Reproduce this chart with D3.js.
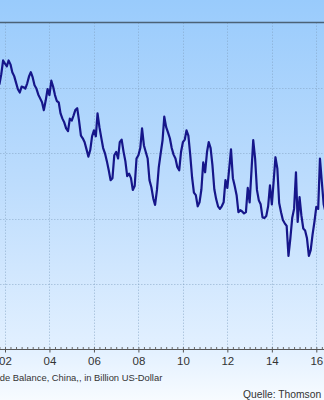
<!DOCTYPE html>
<html>
<head>
<meta charset="utf-8">
<script src="https://cdn.jsdelivr.net/npm/d3@7"></script>
<style>
  html, body { margin: 0; padding: 0; overflow: hidden; background: #fff; }
  svg { display: block; }
</style>
</head>
<body>
<div id="chart"></div>
<script>
// monthly series, first value is Oct 2001
const firstMonth = new Date(2001, 9, 1)
const tradeBalance = [
  40.5, 42.1, 44.2,
  43.7, 43.3, 44.2, 43.6, 42.4, 41.8, 40.8, 39.8, 39.3, 40.2, 40.1, 39.9,
  40.7, 41.8, 42.4, 41.6, 40.4, 39.9, 39.0, 38.4, 37.8, 36.6, 38.1, 39.8,
  38.9, 41.1, 40.2, 38.9, 38.0, 37.8, 36.1, 35.3, 34.7, 33.8, 33.4, 35.3,
  35.0, 35.8, 36.6, 36.9, 35.0, 32.7, 32.3, 31.7, 30.6, 29.5, 30.5, 32.6,
  33.5, 32.6, 36.1, 34.0, 32.4, 30.8, 30.0, 28.8, 27.4, 25.9, 26.2, 29.7,
  30.2, 29.2, 31.7, 32.1, 30.3, 28.8, 26.5, 26.9, 26.2, 24.4, 25.0, 29.2,
  29.7, 30.8, 33.8, 31.2, 30.2, 29.2, 25.9, 24.8, 23.1, 22.1, 24.4, 27.9,
  30.0, 32.0, 35.6, 34.0, 33.2, 32.3, 30.8, 29.8, 29.2, 27.9, 27.4, 30.2,
  31.7, 32.1, 33.5, 32.7, 29.8, 26.3, 24.0, 23.6, 21.9, 22.5, 24.5, 28.6,
  27.1, 30.2, 31.7, 30.8, 28.2, 24.5, 23.0, 21.9, 21.5, 21.9, 22.5, 25.9,
  24.7, 27.7, 30.6, 26.2, 25.0, 23.6, 21.0, 21.3, 21.1, 20.8, 21.0, 24.7,
  22.5, 27.4, 32.0, 29.2, 24.4, 22.8, 22.2, 20.2, 20.1, 20.4, 21.9, 25.1,
  22.2, 25.9, 29.4, 27.7, 22.4, 21.0, 19.8, 19.3, 18.9, 14.3, 17.0, 20.1,
  21.5, 27.1, 19.5, 23.3, 20.5, 18.5, 18.2, 17.0, 14.3, 15.2, 17.6, 19.5,
  21.8, 21.5, 29.2, 25.6, 22.2, 21.0
]
const yearTicks = [2002, 2004, 2006, 2008, 2010, 2012, 2014, 2016]
const gridValues = [10, 20, 30, 40]
const yMax = 50
const captionText = "Trade Balance, China,, in Billion US-Dollar"
const sourceText = "Quelle: Thomson Reuters"

const width = 324
const height = 400
const font = "'Liberation Sans', Arial, sans-serif"

const svg = d3.select("#chart").append("svg")
  .attr("width", width)
  .attr("height", height)

const grad = svg.append("defs").append("linearGradient")
  .attr("id", "bg")
  .attr("x1", 0).attr("y1", 0).attr("x2", 0).attr("y2", 1)
grad.selectAll("stop")
  .data([[0, "#99cbfc"], [0.45, "#bcdcfd"], [0.87, "#e2f0ff"], [1, "#f7fbff"]])
  .enter().append("stop")
  .attr("offset", d => d[0])
  .attr("stop-color", d => d[1])

svg.append("rect")
  .attr("width", width)
  .attr("height", height)
  .attr("fill", "url(#bg)")

const data = tradeBalance.map((v, i) => ({date: d3.timeMonth.offset(firstMonth, i), value: v}))

const x = d3.scaleTime()
  .domain([new Date(2002, 0, 1), new Date(2016, 0, 1)])
  .range([5, 316.3])
const y = d3.scaleLinear()
  .domain([0, yMax])
  .range([349.5, 22.5])

// grid
svg.append("g").selectAll("line")
  .data(gridValues)
  .enter().append("line")
  .attr("x1", 0).attr("x2", width)
  .attr("y1", d => Math.round(y(d)) + 0.5)
  .attr("y2", d => Math.round(y(d)) + 0.5)
  .attr("stroke", "#7f9fc0")
  .attr("stroke-opacity", 0.5)
  .attr("stroke-dasharray", "1.5,1.5")

svg.append("g").selectAll("line")
  .data(yearTicks)
  .enter().append("line")
  .attr("x1", d => Math.round(x(new Date(d, 0, 1))) + 0.5)
  .attr("x2", d => Math.round(x(new Date(d, 0, 1))) + 0.5)
  .attr("y1", y(yMax))
  .attr("y2", y(0))
  .attr("stroke", "#7f9fc0")
  .attr("stroke-opacity", 0.5)
  .attr("stroke-dasharray", "1.5,1.5")

// top frame line
svg.append("line")
  .attr("x1", 0).attr("x2", width)
  .attr("y1", y(yMax)).attr("y2", y(yMax))
  .attr("stroke", "#4b6276")
  .attr("stroke-width", 1.6)

// series
svg.append("path")
  .datum(data)
  .attr("fill", "none")
  .attr("stroke", "#16168a")
  .attr("stroke-width", 2.2)
  .attr("stroke-linejoin", "round")
  .attr("d", d3.line().x(d => x(d.date)).y(d => y(d.value)))

// x axis
const axisG = svg.append("g").attr("transform", `translate(0,${y(0)})`)
axisG.append("line")
  .attr("x1", 0).attr("x2", width)
  .attr("stroke", "#555")

const quarters = d3.timeMonth.every(3).range(new Date(2001, 9, 1), new Date(2016, 9, 1))
axisG.append("g")
  .call(d3.axisBottom(x).tickValues(quarters).tickSize(-2.5).tickFormat(""))
  .call(g => g.select(".domain").remove())
  .call(g => g.selectAll("line").attr("stroke", "#666"))

axisG.append("g")
  .call(d3.axisBottom(x)
    .tickValues(yearTicks.map(d => new Date(d, 0, 1)))
    .tickSize(3)
    .tickFormat(d3.timeFormat("%y")))
  .call(g => g.select(".domain").remove())
  .call(g => g.selectAll("line").attr("stroke", "#555"))
  .call(g => g.selectAll("text")
    .attr("y", 7)
    .attr("fill", "#333")
    .style("font-family", font)
    .style("font-size", "11.5px"))

svg.append("text")
  .attr("x", -14)
  .attr("y", 381)
  .text(captionText)
  .style("font-family", font)
  .style("font-size", "9.4px")
  .style("fill", "#333")

svg.append("text")
  .attr("x", 243)
  .attr("y", 398)
  .text(sourceText)
  .style("font-family", font)
  .style("font-size", "10.3px")
  .style("fill", "#333")
</script>
</body>
</html>
